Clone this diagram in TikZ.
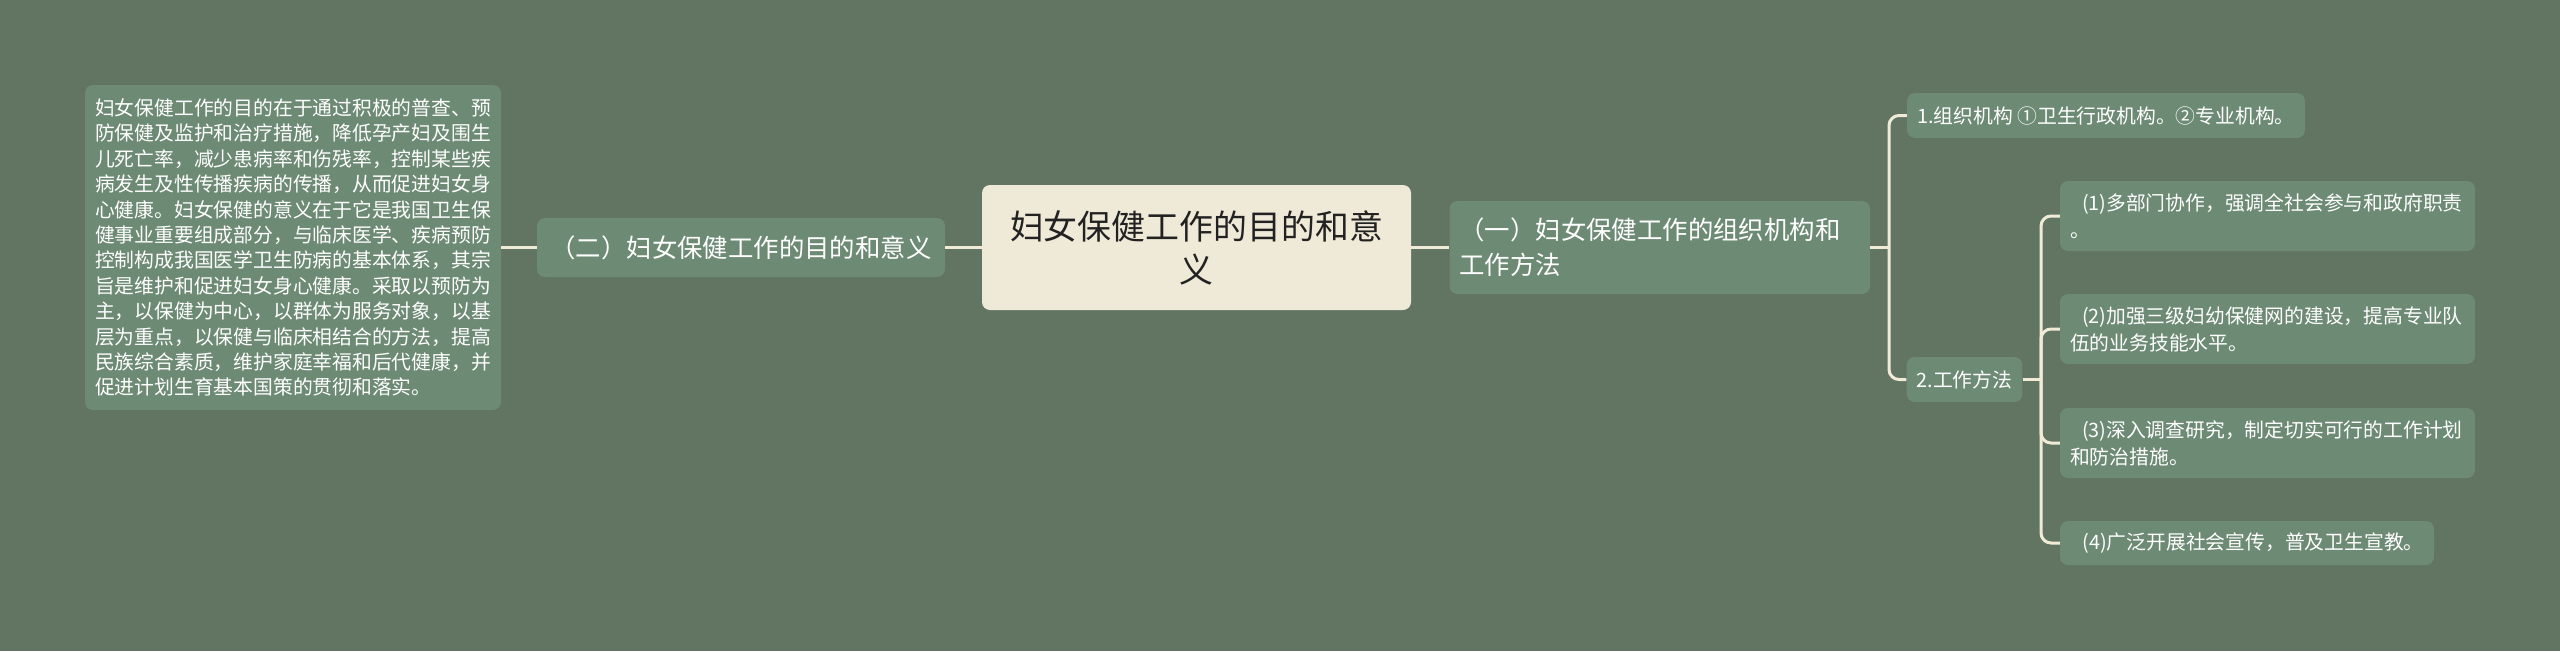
\documentclass[tikz,border=0pt]{standalone}
\usepackage{fontspec}
\setmainfont{Noto Sans CJK SC}
\definecolor{bgc}{HTML}{627462}
\definecolor{leafc}{HTML}{6D8A74}
\definecolor{linec}{HTML}{F0EBD7}
\definecolor{centc}{HTML}{EFE9D8}
\definecolor{centtext}{HTML}{222222}
\begin{document}
\begin{tikzpicture}[x=1pt,y=-1pt,
  leaf/.style={fill=leafc, rounded corners=8pt, text=white, inner xsep=10pt, inner ysep=0pt, align=left},
  conn/.style={draw=linec, line width=3pt},
  fsmall/.style={font=\fontsize{19.8}{27}\selectfont},
  fmid/.style={font=\fontsize{25.4}{35}\selectfont}
]
\fill[bgc] (0,0) rectangle (2560,651);
\useasboundingbox (0,0) rectangle (2560,651);

\node[leaf, text width=396pt, minimum height=325pt, font=\fontsize{19.8}{25.4}\selectfont] (L) at (293,247.5) {妇女保健工作的目的在于通过积极的普查、预\\防保健及监护和治疗措施，降低孕产妇及围生\\儿死亡率，减少患病率和伤残率，控制某些疾\\病发生及性传播疾病的传播，从而促进妇女身\\心健康。妇女保健的意义在于它是我国卫生保\\健事业重要组成部分，与临床医学、疾病预防\\控制构成我国医学卫生防病的基本体系，其宗\\旨是维护和促进妇女身心健康。采取以预防为\\主，以保健为中心，以群体为服务对象，以基\\层为重点，以保健与临床相结合的方法，提高\\民族综合素质，维护家庭幸福和后代健康，并\\促进计划生育基本国策的贯彻和落实。};

\node[fill=centc, rounded corners=8pt, text=centtext, minimum width=429pt, minimum height=125pt, inner sep=0pt, align=center, font=\fontsize{33.9}{43}\selectfont] (C) at (1196.5,247.5) {妇女保健工作的目的和意\\义};

\node[leaf, fmid, minimum width=408pt, minimum height=59pt] (T2) at (741,247.5) {（二）妇女保健工作的目的和意义};

\node[leaf, fmid, text width=400.5pt, minimum height=93pt] (T1) at (1659.75,247.5) {（一）妇女保健工作的组织机构和\\工作方法};

\node[leaf, fsmall, minimum width=398pt, minimum height=45pt] (M1) at (2106,115.5) {1.组织机构 ①卫生行政机构。②专业机构。};
\node[leaf, fsmall, minimum width=115pt, minimum height=45pt] (M2) at (1964.5,379.5) {2.工作方法};

\node[leaf, fsmall, text width=395pt, minimum height=70pt] (S1) at (2267.5,216) {\hspace*{12pt}(1)多部门协作，强调全社会参与和政府职责\\。};
\node[leaf, fsmall, text width=395pt, minimum height=70pt] (S2) at (2267.5,329) {\hspace*{12pt}(2)加强三级妇幼保健网的建设，提高专业队\\伍的业务技能水平。};
\node[leaf, fsmall, text width=395pt, minimum height=70pt] (S3) at (2267.5,443) {\hspace*{12pt}(3)深入调查研究，制定切实可行的工作计划\\和防治措施。};
\node[leaf, fsmall, minimum width=374pt, minimum height=44pt] (S4) at (2247,543) {\hspace*{12pt}(4)广泛开展社会宣传，普及卫生宣教。};

\draw[conn] (L.east) -- (T2.west);
\draw[conn] (T2.east) -- (C.west);
\draw[conn] (C.east) -- (T1.west);
\coordinate (B1) at (1889,247.5);
\draw[conn] (T1.east) -- (B1);
\draw[conn, rounded corners=10pt] (M1.west) -| (B1) |- (M2.west);
\coordinate (B2) at (2041,379.5);
\draw[conn] (M2.east) -- (B2);
\draw[conn, rounded corners=10pt] (S1.west) -| (B2) |- (S4.west);
\draw[conn, rounded corners=10pt] (B2) |- (S2.west);
\draw[conn, rounded corners=10pt] (B2) |- (S3.west);
\end{tikzpicture}
\end{document}
